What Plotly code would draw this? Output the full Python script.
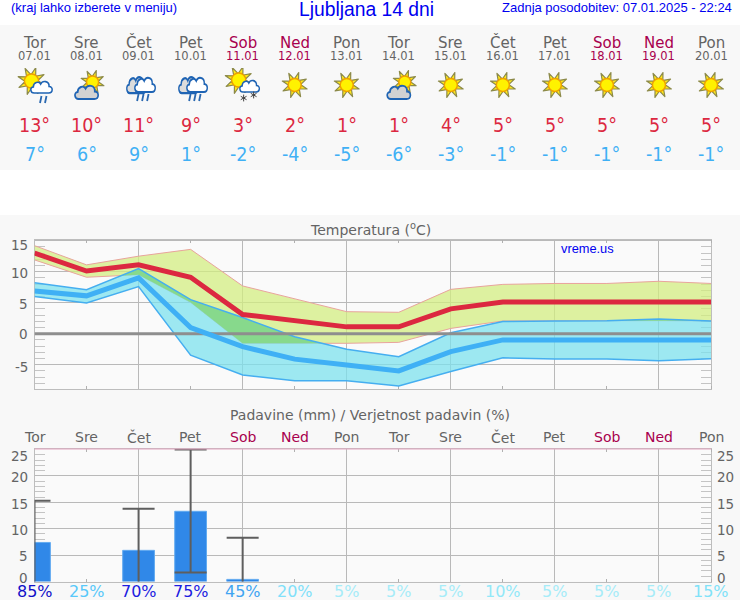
import base64
import numpy as np
import plotly.graph_objects as go

W, H = 740, 600
days = ["Tor", "Sre", "Čet", "Pet", "Sob", "Ned", "Pon", "Tor", "Sre", "Čet", "Pet", "Sob", "Ned", "Pon"]
dates = ["07.01", "08.01", "09.01", "10.01", "11.01", "12.01", "13.01", "14.01", "15.01", "16.01", "17.01", "18.01", "19.01", "20.01"]
icons = ["sunrain", "suncloud", "rain", "rain", "sunsnow", "sun", "sun", "suncloud", "sun", "sun", "sun", "sun", "sun", "sun"]
tmax_txt = [13, 10, 11, 9, 3, 2, 1, 1, 4, 5, 5, 5, 5, 5]
tmin_txt = [7, 6, 9, 1, -2, -4, -5, -6, -3, -1, -1, -1, -1, -1]

t_max_mean = [13.0, 10.1, 11.1, 9.1, 3.1, 2.0, 1.1, 1.1, 4.0, 5.1, 5.1, 5.1, 5.1, 5.1]
t_max_hi = [14.2, 11.1, 12.5, 13.6, 7.7, 5.6, 3.55, 3.45, 7.15, 7.95, 8.1, 8.1, 8.45, 8.1]
t_max_lo = [11.9, 9.1, 9.5, 5.05, -1.55, -1.55, -1.55, -1.4, 0.85, 2.05, 2.1, 2.1, 2.1, 2.05]
t_min_mean = [6.9, 6.1, 9.0, 1.0, -2.1, -4.1, -5.05, -6.0, -2.9, -1.0, -1.0, -1.0, -1.0, -1.0]
t_min_hi = [8.2, 7.1, 10.5, 5.5, 2.6, -0.5, -2.5, -3.7, 0.15, 1.95, 2.05, 2.1, 2.35, 2.05]
t_min_lo = [6.0, 4.95, 7.6, -3.45, -6.65, -7.6, -7.6, -8.45, -6.1, -3.9, -4.1, -4.1, -4.35, -4.05]

precip = [7.4, None, 5.9, 13.3, 0.4, None, None, None, None, None, None, None, None, None]
precip_hi = [15.3, None, 13.8, 25.0, 8.3, None, None, None, None, None, None, None, None, None]
precip_lo = [0.0, None, 0.0, 1.7, 0.0, None, None, None, None, None, None, None, None, None]
prob = [85, 25, 70, 75, 45, 20, 5, 5, 5, 10, 5, 5, 5, 15]

temp_ticks = [15, 10, 5, 0, -5]
temp_tick_shift = [4, 1, 1, 0, 2]
rain_ticks = [25, 20, 15, 10, 5, 0]
rain_tick_shift = [6, 1, 2, 1, 1, -4]

GRAY = "#646464"
WEEKEND = "#a8004e"
RED = "#dc2840"
LBLUE = "#3fb0f5"
prob_col = {85: "#1010c8", 75: "#1c1ce0", 70: "#1c1ce0", 45: "#40a4f2", 25: "#58c8fa",
            20: "#80e0fa", 15: "#80e2f8", 10: "#92e8f8", 5: "#a6ecf8"}
xs = list(range(14))
X0, X1 = 34.5, 711.0


def day_col(i):
    return WEEKEND if days[i] in ("Sob", "Ned") else GRAY


# ---- weather icons ----
CLOUD = "M6 16 C1 16 0 9 5 8.5 C5 3 12 1 14.5 5 C17 0 26 1 25.5 8 C31 8 31 16 25 16 Z"


def sun(cx, cy, r=7.0, ray=12.0):
    rays = ""
    for k in range(8):
        a = np.pi * (k + 0.4) / 4
        b = 0.33
        x1, y1 = cx + r * np.cos(a - b), cy + r * np.sin(a - b)
        x2, y2 = cx + r * np.cos(a + b), cy + r * np.sin(a + b)
        x3, y3 = cx + ray * np.cos(a), cy + ray * np.sin(a)
        rays += (f'<path d="M{x1:.1f} {y1:.1f} L{x3:.1f} {y3:.1f} L{x2:.1f} {y2:.1f} Z" fill="#ffe81a" '
                 f'stroke="#8c8a4a" stroke-width="1.2" stroke-linejoin="round"/>')
    return rays + f'<circle cx="{cx}" cy="{cy}" r="{r}" fill="#fff200" stroke="#f0a000" stroke-width="1.4"/>'


def cloud(x, y, w, h, fill):
    return (f'<g transform="translate({x},{y}) scale({w/30:.3f},{h/16:.3f})">'
            f'<path d="{CLOUD}" fill="{fill}" stroke="#1f64b4" stroke-width="2"/></g>')


def rain_lines(x, y, n=3):
    out = ""
    for k in range(n):
        out += f'<line x1="{x+k*5}" y1="{y}" x2="{x+k*5-1.5}" y2="{y+7}" stroke="#2a68b0" stroke-width="1.8"/>'
    return out


def flake(x, y):
    out = ""
    for a in (0, 60, 120):
        c, s = 3.4 * np.cos(np.radians(a)), 3.4 * np.sin(np.radians(a))
        out += f'<line x1="{x-s:.1f}" y1="{y-c:.1f}" x2="{x+s:.1f}" y2="{y+c:.1f}" stroke="#444" stroke-width="1"/>'
    return out


def icon_svg(kind):
    if kind == "sun":
        body = sun(25, 17, 6.5, 13)
    elif kind == "sunrain":
        body = sun(22, 13, 7, 14) + cloud(20, 12, 23, 13, "#ffffff") + rain_lines(32, 28, 2)
    elif kind == "suncloud":
        body = sun(31, 14, 6, 12) + cloud(12, 16, 25, 15, "#d2d2d2")
    elif kind == "rain":
        body = cloud(12, 7, 21, 18, "#dcdcdc") + cloud(20, 8, 22, 16, "#ffffff") + rain_lines(25, 26)
    else:
        body = sun(21, 12, 7, 14) + cloud(21, 11, 21, 13, "#ffffff") + flake(26, 30) + flake(36, 27)
    svg = f'<svg xmlns="http://www.w3.org/2000/svg" width="50" height="40" viewBox="0 0 50 40">{body}</svg>'
    return "data:image/svg+xml;base64," + base64.b64encode(svg.encode()).decode()


fig = go.Figure()

# ---- temperature bands ----
x_band = xs + xs[::-1]
fig.add_trace(go.Scatter(x=x_band, y=t_max_hi + t_max_lo[::-1], fill="toself", mode="none",
                         fillcolor="rgba(211,238,130,0.75)", hoverinfo="skip", showlegend=False))
for arr in (t_max_hi, t_max_lo):
    fig.add_trace(go.Scatter(x=xs, y=arr, mode="lines", line=dict(color="#e8a49c", width=1),
                             hoverinfo="skip", showlegend=False))
fig.add_trace(go.Scatter(x=x_band, y=t_min_hi + t_min_lo[::-1], fill="toself", mode="none",
                         fillcolor="rgba(126,226,237,0.75)", hoverinfo="skip", showlegend=False))

# where the two bands overlap the colours multiply
dense = np.linspace(0, 13, 2601)
lo = np.maximum(np.interp(dense, xs, t_max_lo), np.interp(dense, xs, t_min_lo))
hi = np.minimum(np.interp(dense, xs, t_max_hi), np.interp(dense, xs, t_min_hi))
mask = hi > lo
ox, oy = [], []
k = 0
while k < len(dense):
    if mask[k]:
        j = k
        while j + 1 < len(dense) and mask[j + 1]:
            j += 1
        ox += list(dense[k:j + 1]) + list(dense[k:j + 1][::-1]) + [None]
        oy += list(hi[k:j + 1]) + list(lo[k:j + 1][::-1]) + [None]
        k = j + 1
    else:
        k += 1
fig.add_trace(go.Scatter(x=ox, y=oy, fill="toself", mode="none", fillcolor="#87d98c",
                         hoverinfo="skip", showlegend=False))
for arr in (t_min_hi, t_min_lo):
    fig.add_trace(go.Scatter(x=xs, y=arr, mode="lines", line=dict(color="#45aef0", width=1.5),
                             hoverinfo="skip", showlegend=False))
fig.add_trace(go.Scatter(x=[0, 13], y=[0, 0], mode="lines", line=dict(color="#8e8e8e", width=3),
                         hoverinfo="skip", showlegend=False))
fig.add_trace(go.Scatter(x=xs, y=t_min_mean, mode="lines", line=dict(color="#3fb0f5", width=5),
                         name="min", showlegend=False))
fig.add_trace(go.Scatter(x=xs, y=t_max_mean, mode="lines", line=dict(color="#dc2840", width=5),
                         name="max", showlegend=False))

# ---- precipitation ----
err_plus = [None if v is None else h - v for v, h in zip(precip, precip_hi)]
# a low end of zero falls outside the plot frame, so its whisker is hidden by the frame clip
err_minus = [None if v is None else (v - l if l > 0 else v + 1) for v, l in zip(precip, precip_lo)]
fig.add_trace(go.Bar(x=xs, y=precip, width=0.61, xaxis="x2", yaxis="y2",
                     marker=dict(color="#3088e8", line=dict(color="#62aaf0", width=1)),
                     error_y=dict(type="data", symmetric=False, array=err_plus, arrayminus=err_minus,
                                  color="#5e5e5e", thickness=2, width=16),
                     showlegend=False))

# ---- annotations ----
ann = []


def text(x, y, s, size, color, family="DejaVu Sans", xref="paper", anchor="center", yref="paper", yshift=0):
    ann.append(dict(x=x, y=y, xref=xref, yref=yref, text=s, showarrow=False, xanchor=anchor, yanchor="middle",
                    yshift=yshift, font=dict(size=size, color=color, family=family), borderpad=0))


def py(v):
    return 1 - v / H


AR = "Liberation Sans"
COND = "DejaVu Sans Condensed, DejaVu Sans"
text(10 / W, py(7), "(kraj lahko izberete v meniju)", 13, "#0000f0", AR, anchor="left")
text(366.5 / W, py(9.5), "Ljubljana 14 dni", 19.3, "#0000f0", AR)
text(732.5 / W, py(7), "Zadnja posodobitev: 07.01.2025 - 22:24", 13, "#0000f0", AR, anchor="right")
for i in xs:
    text(i, py(43), days[i], 15, day_col(i), xref="x")
    text(i, py(56), dates[i], 11.5, day_col(i), xref="x")
    text(i, py(125), f"{tmax_txt[i]}°", 19.5, RED, COND, xref="x")
    text(i, py(155), f"{tmin_txt[i]}°", 19.5, LBLUE, COND, xref="x")
    text(i, py(437), days[i], 14, day_col(i), xref="x")
    text(i, py(591), f"{prob[i]}%", 16, prob_col[prob[i]], xref="x")
text(370 / W, py(229), "Temperatura (<sup>o</sup>C)", 14, GRAY)
text(370 / W, py(415), "Padavine (mm) / Verjetnost padavin (%)", 14, GRAY)
text(560 / W, py(248), "vreme.us", 12.8, "#0000f0", AR, anchor="left")
for v, s in zip(temp_ticks, temp_tick_shift):
    text(29 / W, v, str(v), 13.5, GRAY, anchor="right", yref="y", yshift=-s)
for v, s in zip(rain_ticks, rain_tick_shift):
    text(29 / W, v, str(v), 13.5, GRAY, anchor="right", yref="y2", yshift=-s)
    text(716 / W, v, str(v), 13.5, GRAY, anchor="left", yref="y2", yshift=-s)

col_w = (X1 - X0) / 13
images = [dict(source=icon_svg(icons[i]), xref="paper", yref="paper", x=(X0 + i * col_w) / W, y=py(68),
               sizex=50 / W, sizey=40 / H, xanchor="center", yanchor="top", sizing="stretch", layer="above")
          for i in xs]

shapes = [dict(type="rect", xref="paper", yref="paper", x0=0, x1=1, y0=py(25), y1=1, fillcolor="white",
               line_width=0, layer="below"),
          dict(type="rect", xref="paper", yref="paper", x0=0, x1=1, y0=py(215), y1=py(170), fillcolor="white",
               line_width=0, layer="below"),
          dict(type="line", xref="x2", yref="y2 domain", x0=0, x1=13, y0=1, y1=1,
               line=dict(color="#e4a4c0", width=1))]

XD = [X0 / W, X1 / W]
common_x = dict(range=[0, 13], domain=XD, tick0=0, dtick=2, ticks="", showticklabels=False, showgrid=True,
                gridcolor="#b9b9b9", gridwidth=1, zeroline=False, showline=True, linecolor="#bdbdbd",
                mirror="ticks", layer="below traces",
                minor=dict(ticks="inside", dtick=1, tick0=0, ticklen=3, tickcolor="#b0b0b0", showgrid=False))
common_y = dict(dtick=5, tick0=0, ticks="", showticklabels=False, showgrid=True, gridcolor="#b9b9b9", gridwidth=1,
                zeroline=False, showline=True, linecolor="#bdbdbd", mirror="ticks", layer="below traces",
                minor=dict(ticks="inside", dtick=1, tick0=0, ticklen=10, tickcolor="#c4c4c4", showgrid=False))

fig.update_layout(
    width=W, height=H, margin=dict(l=0, r=0, t=0, b=0), autosize=False,
    paper_bgcolor="#f8f8f8", plot_bgcolor="#fafafa", showlegend=False, barmode="overlay",
    xaxis=dict(anchor="y", **common_x), xaxis2=dict(anchor="y2", **common_x),
    yaxis=dict(anchor="x", domain=[py(389), py(239.5)], range=[-8.92, 15.19], **common_y),
    yaxis2=dict(anchor="x2", domain=[py(581.5), py(449)], range=[0, 25.1], **common_y),
    annotations=ann, images=images, shapes=shapes,
)
fig.write_html("out.html", config=dict(displayModeBar=False),
               post_script="document.body.style.margin='0';document.body.style.overflow='hidden';")
